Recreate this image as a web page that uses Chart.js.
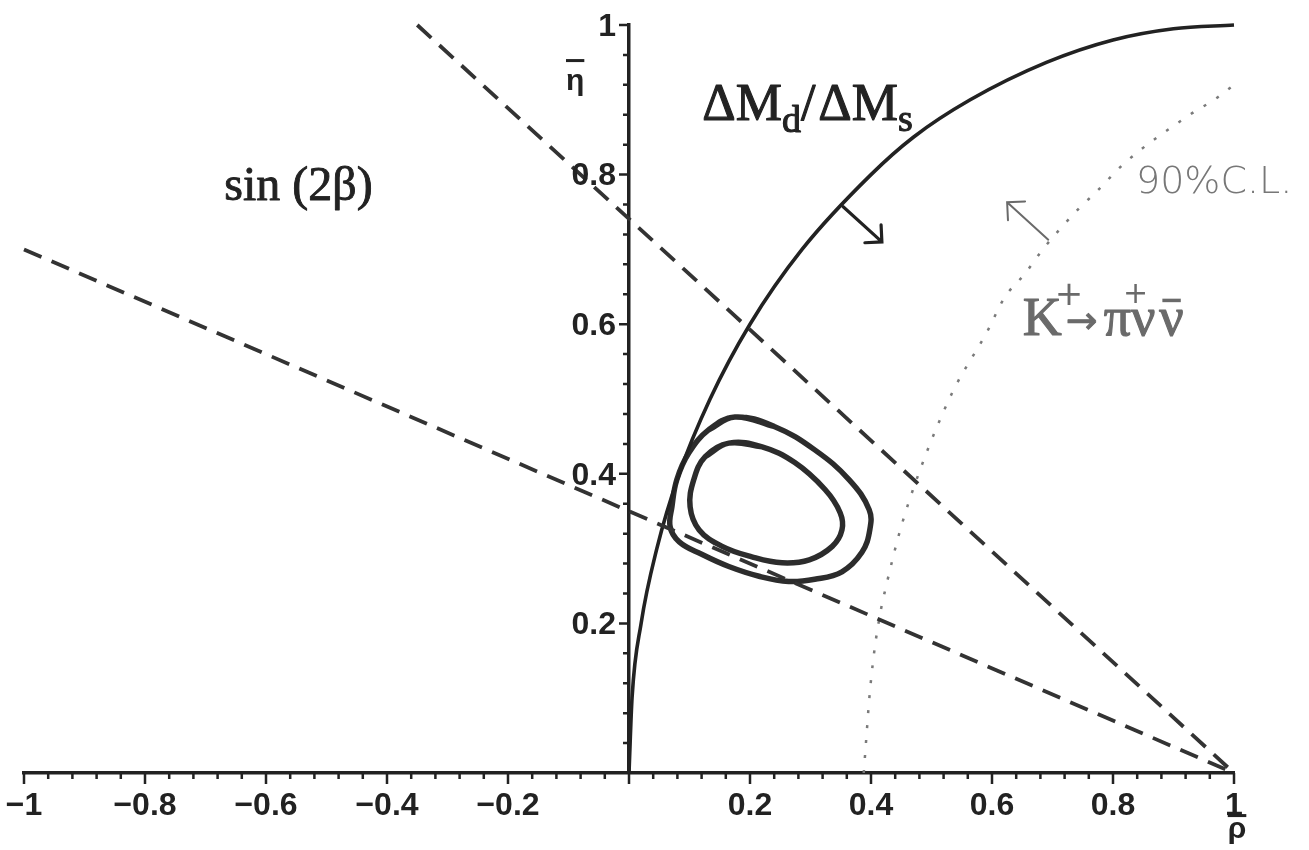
<!DOCTYPE html>
<html>
<head>
<meta charset="utf-8">
<script src="https://cdn.jsdelivr.net/npm/chart.js@4.4.1/dist/chart.umd.min.js"></script>
<style>
  html, body { margin: 0; padding: 0; background: #fff; }
</style>
</head>
<body>
<canvas id="utChart" width="1309" height="850"></canvas>
<script>
// Eje rho (x) y eta (y): valores de las marcas
const xMin = -1, xMax = 1, yMin = 0, yMax = 1;
const tickStep = 0.04;

// Curva ΔMd/ΔMs (línea continua)
const dmX = [0, 0.005, 0.02, 0.046, 0.083, 0.134, 0.2, 0.286, 0.4, 0.47, 0.564, 0.69, 0.8, 0.9, 1.0];
const dmY = [0, 0.1, 0.2, 0.3, 0.4, 0.5, 0.6, 0.7, 0.8, 0.85, 0.9, 0.95, 0.98, 0.995, 1.0];

// Rectas de sin(2β) (discontinuas)
const sinUpperX = [-0.35, 1.0];
const sinUpperY = [1.0, 0.0];
const sinLowerX = [-1.0, 1.0];
const sinLowerY = [0.70, 0.0];

// Límite K+ → π+ νν̄ al 90% C.L. (punteada)
const kX = [0.388, 0.393, 0.397, 0.405, 0.417, 0.423, 0.448, 0.481, 0.534, 0.592, 0.621, 0.655, 0.683, 0.744, 0.77, 0.82, 0.927, 0.969, 1.0];
const kY = [0.0, 0.055, 0.098, 0.16, 0.221, 0.243, 0.324, 0.405, 0.508, 0.59, 0.636, 0.668, 0.699, 0.755, 0.775, 0.816, 0.88, 0.901, 0.92];

// Contornos de confianza (cerrados: se repiten los puntos de los extremos)
const outerX = [0.132, 0.175, 0.241, 0.307, 0.364, 0.397, 0.398, 0.385, 0.352, 0.307, 0.264, 0.215, 0.165, 0.121, 0.083, 0.068, 0.071, 0.079, 0.099, 0.132, 0.175, 0.241];
const outerY = [0.459, 0.476, 0.463, 0.432, 0.392, 0.352, 0.325, 0.295, 0.269, 0.259, 0.256, 0.263, 0.276, 0.292, 0.309, 0.329, 0.356, 0.392, 0.428, 0.459, 0.476, 0.463];
const innerX = [0.126, 0.165, 0.220, 0.274, 0.324, 0.349, 0.352, 0.336, 0.298, 0.253, 0.203, 0.154, 0.116, 0.101, 0.107, 0.126, 0.165, 0.220];
const innerY = [0.423, 0.441, 0.436, 0.415, 0.379, 0.348, 0.325, 0.303, 0.285, 0.281, 0.289, 0.303, 0.325, 0.356, 0.392, 0.423, 0.441, 0.436];

// Flechas (cola -> punta), en unidades de los ejes
const dmArrow = [[0.354, 0.757], [0.418, 0.710]];
const kArrow = [[0.693, 0.713], [0.625, 0.763]];

const ink = "#222";
const gray = "#6a6a6a";
const tickFont = 'bold 32px "Liberation Sans"';

function pts(xs, ys) {
    return xs.map((v, i) => ({ x: v, y: ys[i] }));
}

function isMajor(v) {
    return Math.abs(v * 5 - Math.round(v * 5)) < 1e-6;
}

function fmt(v) {
    if (Math.abs(v) < 1e-9 || !isMajor(v)) return "";
    const s = String(Math.round(Math.abs(v) * 10) / 10);
    return (v < 0 ? "\u2212" : "") + s;
}

function drawArrow(ctx, x1, y1, x2, y2, head, color, width) {
    const a = Math.atan2(y2 - y1, x2 - x1);
    ctx.strokeStyle = color;
    ctx.lineWidth = width;
    ctx.lineCap = "round";
    ctx.beginPath();
    ctx.moveTo(x1, y1);
    ctx.lineTo(x2, y2);
    ctx.moveTo(x2 - head * Math.cos(a - Math.PI / 4), y2 - head * Math.sin(a - Math.PI / 4));
    ctx.lineTo(x2, y2);
    ctx.lineTo(x2 - head * Math.cos(a + Math.PI / 4), y2 - head * Math.sin(a + Math.PI / 4));
    ctx.stroke();
}

// texto algo más grueso, como en la figura escaneada
function inkText(ctx, s, x, y, w) {
    ctx.lineWidth = w;
    ctx.lineJoin = "round";
    ctx.strokeStyle = ctx.fillStyle;
    ctx.strokeText(s, x, y);
    ctx.fillText(s, x, y);
}

// Marcas de los ejes, etiquetas del eje y, flechas y textos
const extras = {
    id: "extras",
    afterDraw(chart) {
        const ctx = chart.ctx;
        const xs = chart.scales.x, ys = chart.scales.y;
        const P = (a, b) => [xs.getPixelForValue(a), ys.getPixelForValue(b)];
        const axX = xs.getPixelForValue(0);
        const axY = ys.getPixelForValue(0);
        ctx.save();

        // marcas menores y mayores
        ctx.strokeStyle = ink;
        ctx.lineWidth = 2.5;
        ctx.beginPath();
        xs.ticks.forEach(t => {
            const p = xs.getPixelForValue(t.value);
            const len = isMajor(t.value) ? 11 : 6;
            ctx.moveTo(p, axY);
            ctx.lineTo(p, axY + len);
        });
        ys.ticks.forEach(t => {
            if (t.value <= 0) return;
            const p = ys.getPixelForValue(t.value);
            const len = isMajor(t.value) ? 10 : 6;
            ctx.moveTo(axX, p);
            ctx.lineTo(axX - len, p);
        });
        ctx.stroke();

        // etiquetas del eje eta, a la izquierda del eje
        ctx.fillStyle = ink;
        ctx.font = tickFont;
        ctx.textAlign = "right";
        ctx.textBaseline = "middle";
        ys.ticks.forEach(t => {
            const s = fmt(t.value);
            if (s) ctx.fillText(s, axX - 13, ys.getPixelForValue(t.value) + 2);
        });

        // flechas
        let a = P(...dmArrow[0]), b = P(...dmArrow[1]);
        drawArrow(ctx, a[0], a[1], b[0], b[1], 17, ink, 3.2);
        a = P(...kArrow[0]); b = P(...kArrow[1]);
        drawArrow(ctx, a[0], a[1], b[0], b[1], 18, gray, 2);

        ctx.textBaseline = "alphabetic";
        ctx.textAlign = "left";

        // sin(2β)
        ctx.fillStyle = ink;
        ctx.font = '48px "Liberation Serif"';
        let p = P(-0.669, 0.766);
        inkText(ctx, "sin (2\u03B2)", p[0], p[1], 0.9);

        // ΔMd/ΔMs
        const big = '52px "Liberation Serif"', small = '38px "Liberation Serif"';
        p = P(0.121, 0.873);
        let x = p[0];
        const y0 = p[1];
        const parts = [["\u0394M", big, 0], ["d", small, 12], ["/", big, 0], ["\u0394M", big, 0], ["s", small, 11]];
        parts.forEach(([s, f, dy]) => {
            ctx.font = f;
            inkText(ctx, s, x, y0 + dy, 1.1);
            x += ctx.measureText(s).width + (s === "/" ? 3 : 0);
        });

        // K+ → π+ ν ν̄
        ctx.fillStyle = gray;
        p = P(0.651, 0.586);
        x = p[0];
        const yk = p[1];
        ctx.font = '54px "Liberation Serif"';
        inkText(ctx, "K", x, yk, 1.1);
        const kw = ctx.measureText("K").width;
        ctx.font = '34px "DejaVu Sans"';
        ctx.fillText("+", x + kw - 7, yk - 30);
        ctx.font = '38px "DejaVu Sans"';
        inkText(ctx, "\u2192", x + kw + 4, yk - 2, 0.8);
        x += kw + 4 + ctx.measureText("\u2192").width + 6;
        ctx.font = '54px "Liberation Serif"';
        inkText(ctx, "\u03C0", x, yk, 1.1);
        const pw = ctx.measureText("\u03C0").width;
        ctx.font = '30px "DejaVu Sans"';
        ctx.fillText("+", x + pw - 8, yk - 32);
        ctx.font = '54px "Liberation Serif"';
        x += pw;
        inkText(ctx, "\u03BD", x, yk, 1.1);
        x += ctx.measureText("\u03BD").width + 4;
        inkText(ctx, "\u03BD", x, yk, 1.1);
        const nw = ctx.measureText("\u03BD").width;
        ctx.fillRect(x + 3, yk - 36, nw - 6, 3.5);

        // 90% C.L.
        ctx.fillStyle = "#777";
        ctx.font = '200 38px "DejaVu Sans"';
        p = P(0.838, 0.775);
        ctx.fillText("90%C.L.", p[0], p[1]);

        // títulos de los ejes
        ctx.fillStyle = ink;
        ctx.textAlign = "center";
        ctx.font = 'bold 30px "Liberation Sans"';
        p = P(-0.089, 0.913);
        ctx.fillText("\u03B7", p[0], p[1]);
        const ew = ctx.measureText("\u03B7").width;
        ctx.fillRect(p[0] - ew / 2, p[1] - 31, ew, 3);
        p = P(1.005, -0.087);
        ctx.fillText("\u03C1", p[0], p[1]);
        const rw = ctx.measureText("\u03C1").width;
        ctx.fillRect(p[0] - rw / 2, p[1] - 24, rw, 3);

        ctx.restore();
    }
};

document.addEventListener("DOMContentLoaded", () => {
    const ctx = document.getElementById("utChart").getContext("2d");

    new Chart(ctx, {
        type: "line",
        data: {
            datasets: [
                {
                    label: "sin(2β) sup",
                    data: pts(sinUpperX, sinUpperY),
                    borderColor: "#333",
                    borderWidth: 3.8,
                    borderDash: [19, 11],
                    pointRadius: 0,
                },
                {
                    label: "sin(2β) inf",
                    data: pts(sinLowerX, sinLowerY),
                    borderColor: "#333",
                    borderWidth: 3.8,
                    borderDash: [19, 11],
                    pointRadius: 0,
                },
                {
                    label: "K+ 90% C.L.",
                    data: pts(kX, kY),
                    borderColor: "#7a7a7a",
                    borderWidth: 2.5,
                    borderDash: [3, 12],
                    cubicInterpolationMode: "monotone",
                    pointRadius: 0,
                },
                {
                    label: "ΔMd/ΔMs",
                    data: pts(dmX, dmY),
                    borderColor: ink,
                    borderWidth: 3.6,
                    cubicInterpolationMode: "monotone",
                    pointRadius: 0,
                },
                {
                    label: "contorno exterior",
                    data: pts(outerX, outerY),
                    borderColor: "#2c2c2c",
                    borderWidth: 5.5,
                    tension: 0.4,
                    pointRadius: 0,
                },
                {
                    label: "contorno interior",
                    data: pts(innerX, innerY),
                    borderColor: "#2c2c2c",
                    borderWidth: 5.5,
                    tension: 0.4,
                    pointRadius: 0,
                },
            ],
        },
        options: {
            responsive: false,
            animation: false,
            clip: false,
            layout: { padding: { left: 24, right: 75, top: 25, bottom: 77 } },
            plugins: {
                legend: { display: false },
                tooltip: { enabled: false },
            },
            scales: {
                x: {
                    type: "linear",
                    min: xMin,
                    max: xMax,
                    position: { y: 0 },
                    grid: { display: false, drawTicks: true, tickLength: 11 },
                    border: { display: true, color: ink, width: 3.5 },
                    ticks: {
                        stepSize: tickStep,
                        autoSkip: false,
                        maxRotation: 0,
                        padding: 3,
                        color: ink,
                        font: { family: "Liberation Sans", size: 32, weight: "bold" },
                        callback: (v) => fmt(v),
                    },
                },
                y: {
                    type: "linear",
                    min: yMin,
                    max: yMax,
                    position: { x: 0 },
                    grid: { display: false, drawTicks: false },
                    border: { display: true, color: ink, width: 3.5 },
                    ticks: {
                        stepSize: tickStep,
                        autoSkip: false,
                        callback: () => "",
                    },
                },
            },
        },
        plugins: [extras],
    });
});
</script>
</body>
</html>
